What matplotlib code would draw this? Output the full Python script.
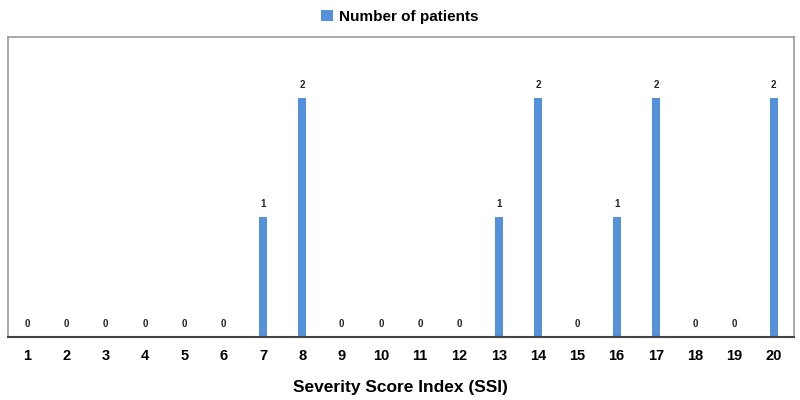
import matplotlib.pyplot as plt

plt.rcParams['font.family'] = ['Liberation Sans', 'DejaVu Sans']

ssi = list(range(1, 21))
patients = [0, 0, 0, 0, 0, 0, 1, 2, 0, 0, 0, 0, 1, 2, 0, 1, 2, 0, 0, 2]

fig = plt.figure(figsize=(8, 4), dpi=100)
ax = fig.add_axes([0.0094, 0.1575, 0.9825, 0.75])

x = list(range(len(ssi)))
bars = ax.bar(x, patients, width=0.2, color='#5590da', label='Number of patients')

for xi, v in zip(x, patients):
    ax.text(xi, v + 0.07, str(v), ha='center', va='bottom',
            fontsize=7, fontweight='bold', color='#222222')

ax.set_xlim(-0.5, len(ssi) - 0.5)
ax.set_ylim(0, 2.51)
ax.set_xticks(x)
ax.set_xticklabels([str(s) for s in ssi], fontsize=10.5, fontweight='bold')
ax.tick_params(axis='x', length=0, pad=9)
ax.set_yticks([])
for side in ['left', 'top', 'right']:
    ax.spines[side].set_color('#999999')
    ax.spines[side].set_linewidth(1.2)
ax.spines['bottom'].set_color('#444444')
ax.spines['bottom'].set_linewidth(1.5)

ax.set_xlabel('Severity Score Index (SSI)', fontsize=12.5, fontweight='bold', labelpad=12)

fig.legend(handles=[bars], labels=['Number of patients'], loc='upper center',
           bbox_to_anchor=(0.5, 1.01), frameon=False, handlelength=0.8,
           handleheight=0.8, handletextpad=0.4,
           prop={'size': 11, 'weight': 'bold'})

fig.savefig('out.png', dpi=100)
